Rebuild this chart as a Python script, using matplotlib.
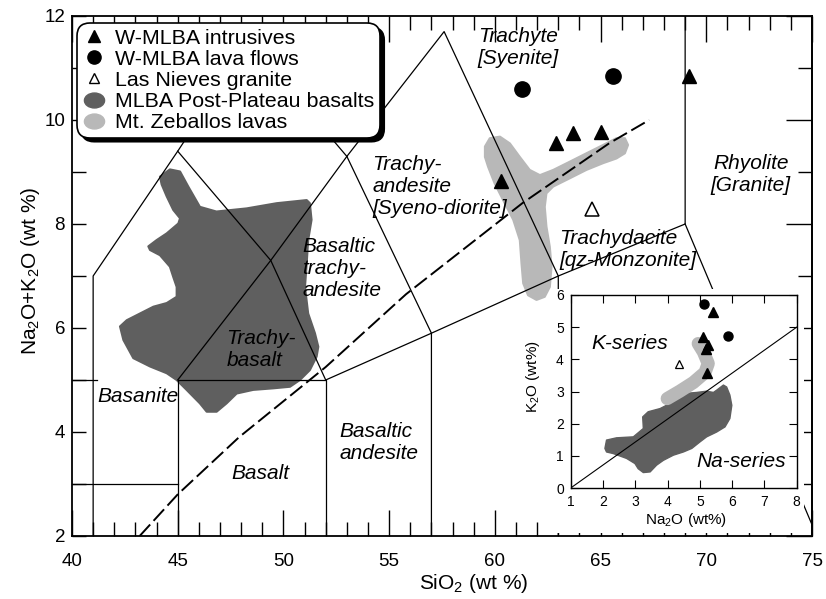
import matplotlib
matplotlib.use("Agg")
import matplotlib.pyplot as plt
from matplotlib.patches import Polygon, Rectangle
from matplotlib.lines import Line2D
from matplotlib.path import Path
from matplotlib.transforms import Affine2D

plt.rcParams['font.family'] = 'Liberation Sans'
plt.rcParams['mathtext.fontset'] = 'custom'
plt.rcParams['mathtext.rm'] = 'Liberation Sans'
plt.rcParams['mathtext.it'] = 'Liberation Sans:italic'

dark_grey = '#5f5f5f'
light_grey = '#b8b8b8'

# ---- TAS data: SiO2 vs Na2O+K2O (wt %) ----
intrusive_si = [60.3, 62.9, 63.7, 65.0, 69.2]
intrusive_alk = [8.82, 9.55, 9.75, 9.77, 10.85]
lava_si = [61.3, 65.6]
lava_alk = [10.6, 10.85]
granite_si = [64.6]
granite_alk = [8.28]

# MLBA post-plateau basalt field
basalt_si = [44.16, 44.63, 45.11, 45.50, 46.05, 46.83, 48.26, 49.68, 51.10, 51.25,
             51.33, 51.17, 51.10, 51.02, 51.17, 51.49, 51.65, 51.57, 51.25, 50.78,
             50.31, 49.52, 48.57, 47.79, 47.31, 46.84, 46.37, 46.05, 45.42, 44.95,
             44.48, 43.69, 42.90, 42.43, 42.27, 42.59, 43.22, 43.85, 44.48, 44.95,
             44.95, 44.79, 44.63, 44.16, 43.69, 43.61, 44.00, 44.48, 45.03, 45.11,
             44.79, 44.48, 44.24]
basalt_alk = [8.91, 9.05, 9.01, 8.72, 8.33, 8.24, 8.30, 8.40, 8.46, 8.40,
              8.08, 7.69, 7.24, 6.79, 6.28, 5.90, 5.64, 5.45, 5.19, 5.00,
              4.87, 4.84, 4.81, 4.74, 4.55, 4.39, 4.39, 4.55, 4.81, 5.00,
              5.13, 5.26, 5.42, 5.77, 6.03, 6.15, 6.28, 6.41, 6.48, 6.60,
              6.79, 6.98, 7.18, 7.40, 7.50, 7.57, 7.69, 7.82, 8.01, 8.11,
              8.27, 8.53, 8.76]

# Mt. Zeballos field
zeb_si = [59.53, 59.76, 60.24, 60.71, 61.18, 61.65, 62.13, 62.76, 63.55, 64.33,
          65.12, 65.75, 66.15, 66.30, 66.15, 65.75, 65.12, 64.33, 63.55, 62.76,
          62.44, 62.36, 62.44, 62.60, 62.68, 62.60, 62.36, 61.97, 61.57, 61.34,
          61.26, 61.18, 60.87, 60.39, 59.99, 59.68, 59.53]
zeb_alk = [9.49, 9.65, 9.68, 9.55, 9.29, 9.04, 8.94, 9.04, 9.20, 9.36,
           9.52, 9.65, 9.65, 9.52, 9.36, 9.26, 9.17, 9.04, 8.88, 8.72,
           8.59, 8.33, 7.95, 7.56, 7.18, 6.79, 6.60, 6.54, 6.63, 6.86,
           7.24, 7.69, 8.08, 8.46, 8.78, 9.10, 9.29]

# alkaline / subalkaline divide
divide_si = [43.2, 45.0, 47.9, 52.0, 55.8, 61.3, 65.4, 67.3]
divide_alk = [2.0, 2.8, 3.9, 5.25, 6.65, 8.4, 9.55, 10.0]

# classification field boundaries (Le Bas et al. 1986)
tas_lines = [
    ([41, 41, 45, 48.4, 53], [0, 7, 9.4, 11.5, 9.3]),
    ([40, 45], [3, 3]),
    ([40, 41.2], [5, 5]),
    ([45, 45, 52, 52], [0, 5, 5, 0]),
    ([45, 49.4, 53, 57.6, 63, 63], [5, 7.3, 9.3, 11.7, 7, 0]),
    ([45, 49.4, 52], [9.4, 7.3, 5]),
    ([52, 57, 63, 69, 69], [5, 5.9, 7, 8, 13]),
    ([57, 57, 53], [0, 5.9, 9.3]),
    ([69, 77.3], [8, 0]),
]

field_names = ['Trachyte\n[Syenite]', 'Rhyolite\n[Granite]',
               'Trachy-\nandesite\n[Syeno-diorite]', 'Trachydacite\n[qz-Monzonite]',
               'Basaltic\ntrachy-\nandesite', 'Trachy-\nbasalt', 'Basanite',
               'Basalt', 'Basaltic\nandesite']
field_x = [61.1, 72.1, 54.2, 63.05, 50.9, 47.3, 43.1, 48.9, 52.65]
field_y = [11.39, 8.95, 8.73, 7.5, 7.15, 5.58, 4.68, 3.21, 3.8]
field_ha = ['center', 'center', 'left', 'left', 'left', 'left', 'center', 'center', 'left']

# ---- inset data: Na2O vs K2O (wt%) ----
in_intr_na = [5.09, 5.19, 5.26, 5.21, 5.40]
in_intr_k = [4.70, 4.33, 4.46, 3.56, 5.48]
in_lava_na = [5.13, 5.88]
in_lava_k = [5.71, 4.72]
in_gran_na = [4.36]
in_gran_k = [3.87]
in_zeb_na = [3.99, 4.38, 4.80, 5.16, 5.26, 5.11, 4.95]
in_zeb_k = [2.78, 3.01, 3.28, 3.59, 3.87, 4.23, 4.49]
in_basalt_na = [2.06, 2.11, 2.42, 2.94, 3.25, 3.23, 3.40, 3.77, 4.18, 4.54,
                4.90, 5.21, 5.42, 5.52, 5.73, 5.83, 5.93, 5.99, 5.93, 5.78,
                5.52, 5.21, 5.00, 4.75, 4.49, 4.18, 3.87, 3.66, 3.46, 3.25,
                3.09, 2.99, 2.73, 2.32, 2.11]
in_basalt_k = [1.23, 1.49, 1.56, 1.59, 1.85, 2.21, 2.37, 2.47, 2.68, 2.94,
               2.97, 3.01, 2.97, 3.04, 3.20, 3.14, 2.89, 2.57, 2.16, 1.90,
               1.74, 1.59, 1.43, 1.23, 1.12, 1.02, 0.86, 0.71, 0.50, 0.48,
               0.60, 0.76, 0.92, 1.07, 1.12]
series_na = [1, 8]
series_k = [0, 5]

legend_labels = ['W-MLBA intrusives', 'W-MLBA lava flows', 'Las Nieves granite',
                 'MLBA Post-Plateau basalts', 'Mt. Zeballos lavas']

W, H = 826, 599
fig = plt.figure(figsize=(W / 100, H / 100), dpi=100)
ax = fig.add_axes([72 / W, 1 - 536 / H, 740 / W, 520 / H])

ax.add_patch(Polygon(list(zip(basalt_si, basalt_alk)), closed=True, facecolor=dark_grey,
                     edgecolor=dark_grey, lw=1.5, joinstyle='round', zorder=1))
ax.add_patch(Polygon(list(zip(zeb_si, zeb_alk)), closed=True, facecolor=light_grey,
                     edgecolor=light_grey, lw=1.5, joinstyle='round', zorder=1))

for xs, ys in tas_lines:
    ax.plot(xs, ys, color='k', lw=0.9, zorder=2)

div, = ax.plot(divide_si, divide_alk, color='k', lw=1.4, zorder=2.5)
div.set_dashes((8, 2.6))

ax.plot(intrusive_si, intrusive_alk, ls='none', marker='^', ms=10, color='k', zorder=4)
ax.plot(lava_si, lava_alk, ls='none', marker='o', ms=11, color='k', zorder=4)
ax.plot(granite_si, granite_alk, ls='none', marker='^', ms=9.5, mfc='white', mec='k',
        mew=1.1, zorder=4)

for name, x, y, ha in zip(field_names, field_x, field_y, field_ha):
    ax.text(x, y, name, ha=ha, va='center', fontsize=15, fontstyle='italic', zorder=3)

ax.set_xlim(40, 75)
ax.set_ylim(2, 12)
ax.set_xticks(range(40, 76, 5))
ax.set_xticks(range(40, 76), minor=True)
ax.set_yticks(range(2, 13, 2))
ax.set_yticks(range(2, 13), minor=True)
ax.tick_params(axis='x', which='both', direction='in', top=True, bottom=True, width=1)
ax.tick_params(axis='x', which='major', length=18.5, pad=12, labelsize=13.5)
ax.tick_params(axis='x', which='minor', length=10)
ax.tick_params(axis='y', which='both', direction='in', left=True, right=False,
               length=10, width=1, pad=5, labelsize=13.5)
for sp in ax.spines.values():
    sp.set_linewidth(1.3)

right = ax.secondary_yaxis('right')
right.set_yticks(range(2, 13, 2))
right.set_yticks(range(2, 13), minor=True)
right.tick_params(which='both', direction='in', width=1, labelright=False)
right.tick_params(which='major', length=18.5)
right.tick_params(which='minor', length=10)
right.spines['right'].set_linewidth(1.3)

ax.set_xlabel('SiO$_2$ (wt %)', fontsize=15)
ax.xaxis.set_label_coords(0.543, -0.07)
ax.set_ylabel('Na$_2$O+K$_2$O (wt %)', fontsize=15)
ax.yaxis.set_label_coords(-0.041, 0.51)

# legend with an elliptical marker for the shaded fields
ellipse = Path.unit_circle().transformed(Affine2D().scale(1.35, 1.0))
handles = [
    Line2D([], [], ls='none', marker='^', ms=9, color='k'),
    Line2D([], [], ls='none', marker='o', ms=9.5, color='k'),
    Line2D([], [], ls='none', marker='^', ms=7, mfc='white', mec='k', mew=1),
    Line2D([], [], ls='none', marker=ellipse, ms=14.5, color=dark_grey),
    Line2D([], [], ls='none', marker=ellipse, ms=14.5, color=light_grey),
]
leg = ax.legend(handles, legend_labels, loc='upper left', bbox_to_anchor=(0.007, 0.986),
                borderaxespad=0, fontsize=15.4, labelspacing=0.1, handlelength=1.03,
                handletextpad=0.51, borderpad=0.25, framealpha=1, edgecolor='k',
                fancybox=True,
                shadow={'ox': 3, 'oy': -3, 'facecolor': 'k', 'edgecolor': 'k', 'alpha': 1})
leg.get_frame().set_linewidth(1.2)
leg.legendPatch.set_boxstyle('round', pad=0, rounding_size=0.6)
leg.set_zorder(6)

# white backing for the inset
fig.add_artist(Rectangle((552 / W, 1 - 533 / H), (804 - 552) / W, (533 - 289) / H,
                         transform=fig.transFigure, facecolor='white', edgecolor='none',
                         zorder=2))

ins = fig.add_axes([570.7 / W, 1 - 488 / H, 226 / W, 193 / H])
ins.set_zorder(3)
ins.add_patch(Polygon(list(zip(in_basalt_na, in_basalt_k)), closed=True, facecolor=dark_grey,
                      edgecolor=dark_grey, lw=1, joinstyle='round', zorder=1))
ins.plot(in_zeb_na, in_zeb_k, color=light_grey, lw=9.5, solid_capstyle='round',
         solid_joinstyle='round', zorder=1.5)
ins.plot(series_na, series_k, color='k', lw=0.8, zorder=2)
ins.plot(in_intr_na, in_intr_k, ls='none', marker='^', ms=6.5, color='k', zorder=4)
ins.plot(in_lava_na, in_lava_k, ls='none', marker='o', ms=6.5, color='k', zorder=4)
ins.plot(in_gran_na, in_gran_k, ls='none', marker='^', ms=6, mfc='white', mec='k',
         mew=0.9, zorder=4)
ins.text(1.65, 4.5, 'K-series', ha='left', va='center', fontsize=15, fontstyle='italic')
ins.text(4.9, 0.81, 'Na-series', ha='left', va='center', fontsize=15, fontstyle='italic')

ins.set_xlim(1, 8)
ins.set_ylim(0, 6)
ins.set_xticks(range(1, 9))
ins.set_yticks(range(0, 7))
ins.tick_params(which='both', direction='in', top=True, right=True, length=6, width=0.8,
                labelsize=10)
ins.tick_params(axis='x', pad=5)
ins.tick_params(axis='y', pad=5)
for sp in ins.spines.values():
    sp.set_linewidth(1.0)
ins.set_xlabel('Na$_2$O (wt%)', fontsize=11)
ins.xaxis.set_label_coords(0.512, -0.118)
ins.set_ylabel('K$_2$O (wt%)', fontsize=11)
ins.yaxis.set_label_coords(-0.125, 0.575)

fig.savefig('out.png', dpi=100)
